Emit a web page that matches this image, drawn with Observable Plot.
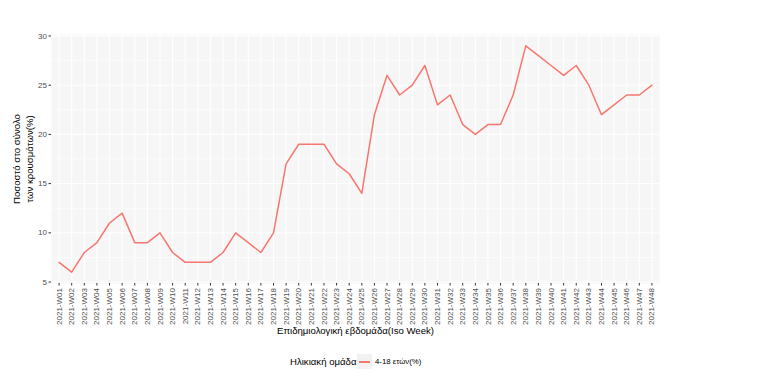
<!DOCTYPE html>
<html>
<head>
<meta charset="utf-8">
<script src="https://cdn.jsdelivr.net/npm/d3@7"></script>
<script src="https://cdn.jsdelivr.net/npm/@observablehq/plot@0.6"></script>
<style>
  html, body { margin: 0; padding: 0; background: #fff; }
  body { width: 757px; height: 384px; overflow: hidden; font-family: "Liberation Sans", Arial, sans-serif; }
  #legend { position: relative; height: 39px; width: 757px; }
  #legend div { white-space: nowrap; }
  #legend .title { position: absolute; left: 290px; top: 11px; font-size: 9.6px; color: #000; }
  #legend .key { position: absolute; left: 357px; top: 9px; width: 15px; height: 15px; background: #F2F2F2; }
  #legend .key span { position: absolute; left: 2px; top: 7px; width: 11px; height: 1.5px; background: #F8766D; }
  #legend .lab { position: absolute; left: 375px; top: 12px; font-size: 7.8px; color: #000; }
</style>
</head>
<body>
<div id="chart"></div>
<div id="legend">
  <div class="title">Ηλικιακή ομάδα</div>
  <div class="key"><span></span></div>
  <div class="lab">4-18 ετών(%)</div>
</div>
<script>
const weeks = ["2021-W01","2021-W02","2021-W03","2021-W04","2021-W05","2021-W06","2021-W07","2021-W08","2021-W09","2021-W10","2021-W11","2021-W12","2021-W13","2021-W14","2021-W15","2021-W16","2021-W17","2021-W18","2021-W19","2021-W20","2021-W21","2021-W22","2021-W23","2021-W24","2021-W25","2021-W26","2021-W27","2021-W28","2021-W29","2021-W30","2021-W31","2021-W32","2021-W33","2021-W34","2021-W35","2021-W36","2021-W37","2021-W38","2021-W39","2021-W40","2021-W41","2021-W42","2021-W43","2021-W44","2021-W45","2021-W46","2021-W47","2021-W48"];
const values = [7,6,8,9,11,12,9,9,10,8,7,7,7,8,10,9,8,10,17,19,19,19,17,16,14,22,26,24,25,27,23,24,21,20,21,21,24,29,28,27,26,27,25,22,23,24,24,25];
const yTicks = [5,10,15,20,25,30];
const yMinor = [7.5,12.5,17.5,22.5,27.5];
const seriesName = "4-18 ετών(%)";
const yTitle1 = "Ποσοστό στο σύνολο";
const yTitle2 = "των κρουσμάτων(%)";
const xTitle = "Επιδημιολογική εβδομάδα(Iso Week)";

const data = weeks.map((w, i) => ({week: w, value: values[i], group: seriesName}));

const chart = Plot.plot({
  width: 757,
  height: 345,
  marginLeft: 51,
  marginRight: 98,
  marginTop: 34,
  marginBottom: 62,
  style: {fontFamily: "'Liberation Sans', Arial, sans-serif", background: "#fff"},
  x: {type: "point", domain: weeks, padding: 0.6, round: false, label: null},
  y: {domain: [4.85, 30.15], label: null},
  marks: [
    Plot.frame({fill: "#F6F6F6", stroke: null}),
    Plot.ruleY(yMinor, {stroke: "#fff", strokeWidth: 0.6}),
    Plot.ruleY(yTicks, {stroke: "#fff", strokeWidth: 1.1}),
    Plot.ruleX(weeks, {stroke: "#fff", strokeWidth: 1.1}),
    Plot.line(data, {x: "week", y: "value", stroke: "#F8766D", strokeWidth: 1.5}),
    Plot.axisY({ticks: yTicks, tickSize: 2.5, tickPadding: 2, fontSize: 8, color: "#4D4D4D", stroke: "#333", label: null}),
    Plot.axisX({tickRotate: -90, tickSize: 2.5, tickPadding: 2, fontSize: 8, color: "#4D4D4D", stroke: "#333", label: null}),
    Plot.text([yTitle1], {frameAnchor: "left", textAnchor: "middle", dx: -35, rotate: -90, fontSize: 9.6, fill: "#000"}),
    Plot.text([yTitle2], {frameAnchor: "left", textAnchor: "middle", dx: -22, rotate: -90, fontSize: 9.6, fill: "#000"}),
    Plot.text([xTitle], {frameAnchor: "bottom", dy: 50, fontSize: 9.6, fill: "#000"})
  ]
});
document.getElementById("chart").appendChild(chart);
</script>
</body>
</html>
